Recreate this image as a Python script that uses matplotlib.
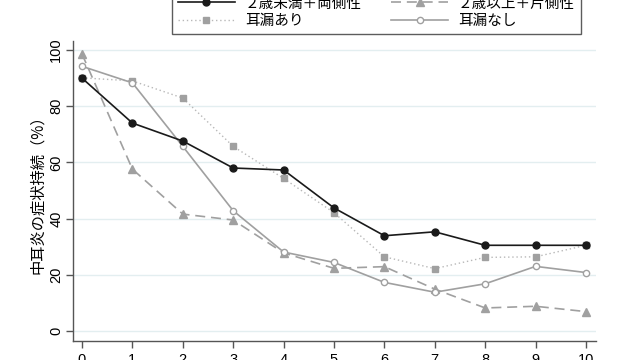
import matplotlib
matplotlib.use("Agg")
import matplotlib.pyplot as plt

plt.rcParams['font.family'] = ['Liberation Sans', 'Noto Sans CJK JP', 'DejaVu Sans']

years = [0, 1, 2, 3, 4, 5, 6, 7, 8, 9, 10]
labels = ["２歳未満＋両側性", "２歳以上＋片側性", "耳漏あり", "耳漏なし"]
s_under2 = [90.0, 74.0, 67.6, 58.0, 57.3, 43.8, 33.9, 35.3, 30.5, 30.5, 30.5]
s_over2 = [98.6, 57.6, 41.6, 39.5, 27.8, 22.3, 22.9, 14.9, 8.2, 8.8, 6.9]
s_otorrhea = [90.1, 89.0, 82.9, 65.7, 54.3, 42.1, 26.4, 22.2, 26.2, 26.4, 30.5]
s_no_otorrhea = [94.2, 88.3, 65.7, 42.8, 28.1, 24.4, 17.3, 13.8, 16.8, 23.0, 20.8]
yticks = [0, 20, 40, 60, 80, 100]
ylabel = "中耳炎の症状持続（%）"

fig = plt.figure(figsize=(6.4, 3.6), dpi=100)
W, H = 640, 360
ax = fig.add_axes([73 / W, 19 / H, (596 - 73) / W, (341 - 41) / H])

gray = "#a0a0a0"
dark = "#1a1a1a"

h0, = ax.plot(years, s_under2, color=dark, lw=1.2, marker='o', ms=5, mfc=dark, mec=dark,
              label=labels[0], zorder=5)
h1, = ax.plot(years, s_over2, color=gray, lw=1.2, ls=(0, (6, 3.5)), marker='^', ms=5.5,
              mfc=gray, mec=gray, label=labels[1], zorder=4)
h2, = ax.plot(years, s_otorrhea, color="#b8b8b8", lw=1.0, ls=(0, (1, 2)), marker='s', ms=5,
              mfc=gray, mec=gray, label=labels[2], zorder=3)
h3, = ax.plot(years, s_no_otorrhea, color=gray, lw=1.2, marker='o', ms=4.5,
              mfc='white', mec=gray, mew=1.0, label=labels[3], zorder=4)

ax.set_xlim((73 - 82) / 50.4, (596 - 82) / 50.4)
ax.set_ylim((331 - 341) / 2.81, (331 - 41) / 2.81)
ax.set_xticks(years)
ax.set_yticks(yticks)
ax.set_xticklabels([str(v) for v in years], fontsize=10.5)
ax.set_yticklabels([str(v) for v in yticks], fontsize=10.5, rotation=90, va='center')

ax.grid(axis='y', color='#e3eef0', lw=1.0, zorder=0)
ax.set_axisbelow(True)
for s in ['top', 'right']:
    ax.spines[s].set_visible(False)
for s in ['left', 'bottom']:
    ax.spines[s].set_color('#555555')
    ax.spines[s].set_linewidth(1.0)
ax.tick_params(direction='out', length=5, width=1.0, color='#555555', pad=4,
               labelcolor='black')
ax.tick_params(axis='y', pad=2)

ax.set_ylabel(ylabel, fontsize=11, family=['Noto Sans CJK JP', 'DejaVu Sans'], labelpad=2)

leg = fig.legend([h0, h2, h1, h3], [labels[0], labels[2], labels[1], labels[3]],
                 loc='lower left', ncol=2,
                 bbox_to_anchor=(172 / W, 1 - 34 / H),
                 bbox_transform=fig.transFigure,
                 prop={'family': ['Noto Sans CJK JP', 'DejaVu Sans'], 'size': 10.5},
                 frameon=True, fancybox=False, handlelength=3.9, handletextpad=0.7,
                 borderpad=0.4, labelspacing=0.25, columnspacing=2.0, borderaxespad=0)
leg.get_frame().set_edgecolor('#333333')
leg.get_frame().set_linewidth(1.0)

fig.savefig("out.png", dpi=100)
